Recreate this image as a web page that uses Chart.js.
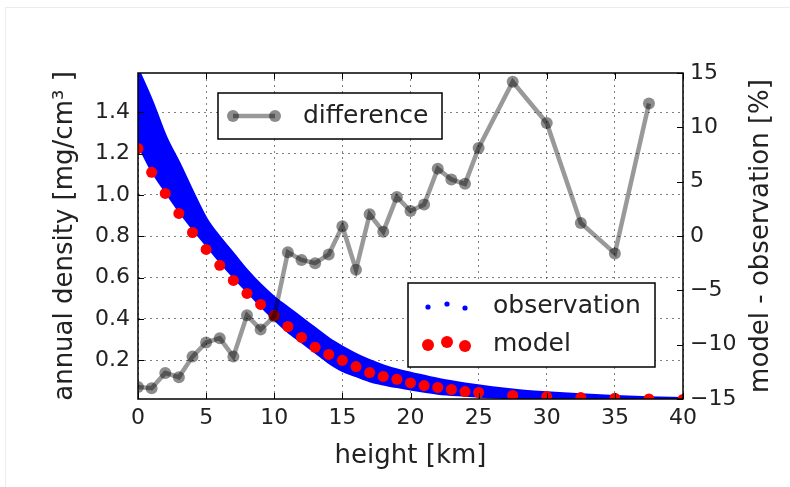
<!DOCTYPE html>
<html>
<head>
<meta charset="utf-8">
<script src="https://cdn.jsdelivr.net/npm/chart.js@4"></script>
<style>
  html, body { margin: 0; padding: 0; background: #fff; }
  #wrap { position: relative; width: 790px; height: 487px; }
  #frame { position: absolute; left: 5px; top: 7px; right: 0; bottom: 0; border-top: 1px solid #ececec; border-left: 1px solid #ececec; pointer-events: none; }
  canvas { position: absolute; left: 0; top: 0; }
</style>
</head>
<body>
<div id="wrap">
  <canvas id="myChart" width="790" height="487"></canvas>
  <div id="frame"></div>
</div>
<script>
// heights in km
const obsHeights = [0,1,2,3,4,5,6,7,8,9,10,11,12,13,14,15,16,17,18,19,20,22,24,26,28,30,32.5,35,37.5,40];
// observation cloud, upper and lower edge [mg/cm3]
const obsUpper = [1.60,1.45,1.28,1.15,1.01,0.88,0.79,0.71,0.63,0.56,0.50,0.45,0.40,0.35,0.30,0.26,0.225,0.195,0.17,0.15,0.135,0.105,0.082,0.064,0.05,0.04,0.03,0.022,0.016,0.012];
const obsLower = [1.25,1.12,1.02,0.925,0.84,0.76,0.68,0.605,0.535,0.465,0.40,0.34,0.29,0.24,0.19,0.15,0.125,0.10,0.085,0.072,0.06,0.04,0.03,0.022,0.016,0.012,0.009,0.006,0.004,0.003];

const modelHeights = [0,1,2,3,4,5,6,7,8,9,10,11,12,13,14,15,16,17,18,19,20,21,22,23,24,25,27.5,30,32.5,35,37.5,40];
const modelDensity = [1.225,1.109,1.007,0.910,0.818,0.736,0.659,0.586,0.523,0.470,0.416,0.363,0.310,0.262,0.228,0.199,0.169,0.140,0.121,0.107,0.090,0.077,0.068,0.058,0.048,0.044,0.029,0.024,0.019,0.016,0.012,0.010];

const diffHeights = [0,1,2,3,4,5,6,7,8,9,10,11,12,13,14,15,16,17,18,19,20,21,22,23,24,25,27.5,30,32.5,35,37.5];
const diffValues = [-13.9,-14.0,-12.6,-13.0,-11.1,-9.8,-9.4,-11.1,-7.3,-8.6,-7.4,-1.5,-2.2,-2.5,-1.7,0.9,-3.1,2.0,0.4,3.6,2.3,2.9,6.2,5.2,4.8,8.1,14.2,10.4,1.2,-1.6,12.2];

const densityTicks = [0.2,0.4,0.6,0.8,1.0,1.2,1.4];
const xTicks = [0,5,10,15,20,25,30,35,40];
const diffTicks = [-15,-10,-5,0,5,10,15];

const FONT = "'DejaVu Sans', sans-serif";

const pts = (xs, ys) => xs.map((x, i) => ({ x: x, y: ys[i] }));

// frame, inward ticks, right axis title and the two legends
const decor = {
  id: 'decor',
  afterDatasetsDraw(chart) {
    const ctx = chart.ctx;
    const a = chart.chartArea;
    const sx = chart.scales.x, sy = chart.scales.y, sy1 = chart.scales.y1;
    ctx.save();
    ctx.strokeStyle = '#000';
    ctx.lineWidth = 1;
    ctx.beginPath();
    xTicks.forEach(v => {
      const px = Math.round(sx.getPixelForValue(v)) + 0.5;
      ctx.moveTo(px, a.bottom); ctx.lineTo(px, a.bottom - 6);
      ctx.moveTo(px, a.top); ctx.lineTo(px, a.top + 6);
    });
    densityTicks.forEach(v => {
      const py = Math.round(sy.getPixelForValue(v)) + 0.5;
      ctx.moveTo(a.left, py); ctx.lineTo(a.left + 6, py);
    });
    diffTicks.forEach(v => {
      const py = Math.round(sy1.getPixelForValue(v)) + 0.5;
      ctx.moveTo(a.right, py); ctx.lineTo(a.right - 6, py);
    });
    ctx.stroke();
    ctx.lineWidth = 1.5;
    ctx.strokeRect(a.left, a.top, a.right - a.left, a.bottom - a.top);

    // right axis title, reading bottom to top
    ctx.save();
    ctx.translate(761, (a.top + a.bottom) / 2);
    ctx.rotate(-Math.PI / 2);
    ctx.fillStyle = '#222';
    ctx.font = '26px ' + FONT;
    ctx.textAlign = 'center';
    ctx.textBaseline = 'middle';
    ctx.fillText('model - observation [%]', 0, 0);
    ctx.restore();

    // legend: difference
    let lx = a.left + 80, ly = a.top + 20;
    ctx.fillStyle = '#fff';
    ctx.fillRect(lx, ly, 224, 46);
    ctx.lineWidth = 1.5;
    ctx.strokeStyle = '#000';
    ctx.strokeRect(lx, ly, 224, 46);
    ctx.strokeStyle = 'rgba(0,0,0,0.4)';
    ctx.lineWidth = 4.5;
    ctx.beginPath();
    ctx.moveTo(lx + 15, ly + 23); ctx.lineTo(lx + 57, ly + 23);
    ctx.stroke();
    ctx.fillStyle = 'rgba(0,0,0,0.45)';
    [lx + 15, lx + 57].forEach(cx => {
      ctx.beginPath(); ctx.arc(cx, ly + 23, 6, 0, Math.PI * 2); ctx.fill();
    });
    ctx.fillStyle = '#222';
    ctx.font = '25px ' + FONT;
    ctx.textAlign = 'left';
    ctx.textBaseline = 'middle';
    ctx.fillText('difference', lx + 85, ly + 23);

    // legend: observation / model
    lx = a.left + 270; ly = a.top + 210;
    ctx.fillStyle = '#fff';
    ctx.fillRect(lx, ly, 247, 84);
    ctx.lineWidth = 1.5;
    ctx.strokeStyle = '#000';
    ctx.strokeRect(lx, ly, 247, 84);
    const offs = [[20, 24], [39, 21], [57, 25]];
    ctx.fillStyle = '#0000ff';
    offs.forEach(o => { ctx.beginPath(); ctx.arc(lx + o[0], ly + o[1], 2.6, 0, Math.PI * 2); ctx.fill(); });
    ctx.fillStyle = '#ff0000';
    offs.forEach(o => { ctx.beginPath(); ctx.arc(lx + o[0], ly + o[1] + 38, 6, 0, Math.PI * 2); ctx.fill(); });
    ctx.fillStyle = '#222';
    ctx.font = '25px ' + FONT;
    ctx.fillText('observation', lx + 85, ly + 23);
    ctx.fillText('model', lx + 85, ly + 61);
    ctx.restore();
  }
};

new Chart(document.getElementById('myChart'), {
  type: 'scatter',
  data: {
    datasets: [
      {
        label: 'difference',
        data: pts(diffHeights, diffValues),
        yAxisID: 'y1',
        showLine: true,
        borderColor: 'rgba(0,0,0,0.4)',
        borderWidth: 4.5,
        pointRadius: 6,
        pointBackgroundColor: 'rgba(0,0,0,0.45)',
        pointBorderWidth: 0,
        order: 0
      },
      {
        label: 'model',
        data: pts(modelHeights, modelDensity),
        yAxisID: 'y',
        pointRadius: 5.5,
        pointBackgroundColor: '#ff0000',
        pointBorderWidth: 0,
        order: 1
      },
      {
        label: 'observation lower',
        data: pts(obsHeights, obsLower),
        yAxisID: 'y',
        showLine: true,
        cubicInterpolationMode: 'monotone',
        borderColor: '#0000ff',
        borderWidth: 3,
        pointRadius: 0,
        fill: false,
        order: 3
      },
      {
        label: 'observation',
        data: pts(obsHeights, obsUpper),
        yAxisID: 'y',
        showLine: true,
        cubicInterpolationMode: 'monotone',
        borderColor: '#0000ff',
        backgroundColor: '#0000ff',
        borderWidth: 4,
        pointRadius: 0,
        fill: '-1',
        order: 2
      }
    ]
  },
  options: {
    responsive: false,
    animation: false,
    layout: { padding: { top: 73, left: 0, right: 0, bottom: 0 } },
    plugins: {
      legend: { display: false },
      tooltip: { enabled: false },
      filler: { propagate: false }
    },
    scales: {
      x: {
        type: 'linear',
        min: 0, max: 40,
        afterFit: s => { s.height = 88; },
        afterBuildTicks: s => { s.ticks = xTicks.map(v => ({ value: v })); },
        grid: { color: 'rgba(0,0,0,0.5)', lineWidth: 1, drawTicks: false },
        border: { display: false, dash: [2, 4] },
        ticks: { color: '#222', font: { family: FONT, size: 22 }, padding: 6, maxRotation: 0 },
        title: { display: true, text: 'height [km]', color: '#222', font: { family: FONT, size: 26 }, padding: { bottom: 15 } }
      },
      y: {
        position: 'left',
        min: 0.012, max: 1.59,
        afterFit: s => { s.width = 138; },
        afterBuildTicks: s => { s.ticks = densityTicks.map(v => ({ value: v })); },
        grid: { color: 'rgba(0,0,0,0.5)', lineWidth: 1, drawTicks: false },
        border: { display: false, dash: [2, 4] },
        ticks: { color: '#222', font: { family: FONT, size: 22 }, padding: 8, callback: v => v.toFixed(1) },
        title: { display: true, text: 'annual density [mg/cm³ ]', color: '#222', font: { family: FONT, size: 26 }, padding: { top: 50 } }
      },
      y1: {
        position: 'right',
        min: -15, max: 15,
        afterFit: s => { s.width = 107; },
        afterBuildTicks: s => { s.ticks = diffTicks.map(v => ({ value: v })); },
        grid: { display: false, drawOnChartArea: false, drawTicks: false },
        border: { display: false },
        ticks: { color: '#222', font: { family: FONT, size: 22 }, padding: 7, callback: v => String(v).replace('-', '\u2212') }
      }
    }
  },
  plugins: [decor]
});
</script>
</body>
</html>
